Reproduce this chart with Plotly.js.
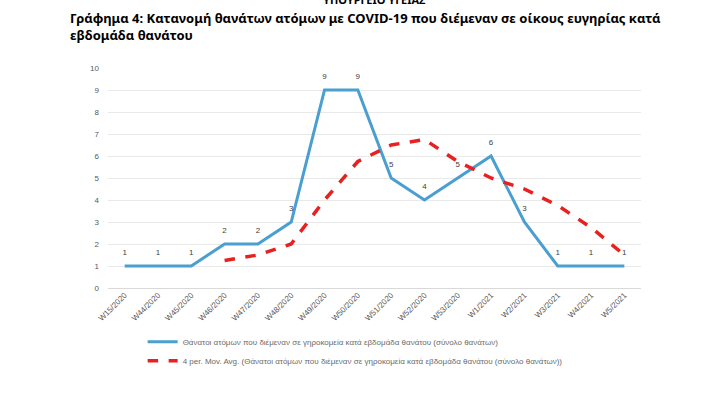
<!DOCTYPE html>
<html><head><meta charset="utf-8">
<script src="https://cdn.plot.ly/plotly-3.0.1.min.js"></script>
<style>body{margin:0;background:#fff}#c{width:715px;height:398px}</style>
</head><body><div id="c"></div>
<script>
const weeks = ["W15/2020","W44/2020","W45/2020","W46/2020","W47/2020","W48/2020","W49/2020","W50/2020","W51/2020","W52/2020","W53/2020","W1/2021","W2/2021","W3/2021","W4/2021","W5/2021"];
const deaths = [1,1,1,2,2,3,9,9,5,4,5,6,3,1,1,1];
const movAvgWeeks = ["W46/2020","W47/2020","W48/2020","W49/2020","W50/2020","W51/2020","W52/2020","W53/2020","W1/2021","W2/2021","W3/2021","W4/2021","W5/2021"];
const movAvg = [1.25,1.5,2,4,5.75,6.5,6.75,5.75,5,4.5,3.75,2.75,1.5];
const seriesNames = ["Θάνατοι ατόμων που διέμεναν σε γηροκομεία κατά εβδομάδα θανάτου (σύνολο θανάτων)",
 "4 per. Mov. Avg. (Θάνατοι ατόμων που διέμεναν σε γηροκομεία κατά εβδομάδα θανάτου (σύνολο θανάτων))"];

const traces = [
 {x: weeks, y: deaths, type:'scatter', mode:'lines', name: seriesNames[0],
  line:{color:'#4a9fd0', width:3}},
 {x: movAvgWeeks, y: movAvg, type:'scatter', mode:'lines', name: seriesNames[1],
  line:{color:'#e8201f', width:3.5, dash:'dash'}},
 {x: weeks, y: deaths, type:'scatter', mode:'text', showlegend:false, hoverinfo:'skip',
  text: deaths.map(String), textposition:'top center',
  textfont:{size:8, color:'#404040', family:'Liberation Sans, Arial'}, cliponaxis:false}
];
const layout = {
 width:715, height:398,
 margin:{l:108, r:74, t:68, b:110},
 paper_bgcolor:'#fff', plot_bgcolor:'#fff',
 font:{family:'Liberation Sans, Arial', size:8, color:'#595959'},
 showlegend:true,
 legend:{orientation:'v', x:0.065, xanchor:'left', yref:'container', y:0.178, yanchor:'top', font:{size:8, color:'#6a6a6a'}, tracegroupgap:0, itemwidth:30},
 xaxis:{type:'category', range:[-0.5,15.5], tickangle:-45, showgrid:false, zeroline:false, showline:false, ticks:'', tickfont:{size:8, color:'#595959'}, automargin:false},
 yaxis:{range:[0,10], dtick:1, showgrid:true, gridcolor:'#e9e9e9', gridwidth:1, zeroline:true, zerolinecolor:'#d9d9d9', showline:false, ticks:'', ticklabelstandoff:8, tickfont:{size:8, color:'#595959'}, automargin:false},
 annotations:[
  {text:'<b>ΥΠΟΥΡΓΕΙΟ ΥΓΕΙΑΣ</b>', xref:'paper', yref:'paper', x:0.5, y:1, xanchor:'center', yanchor:'bottom', showarrow:false, font:{family:'Noto Sans', size:11, color:'#000'}, yshift:59},
  {text:'<b>Γράφημα 4: Κατανομή θανάτων ατόμων με COVID-19 που διέμεναν σε οίκους ευγηρίας κατά<br>εβδομάδα θανάτου</b>', xref:'paper', yref:'paper', x:-0.075, y:1, xanchor:'left', yanchor:'top', align:'left', showarrow:false, font:{family:'Noto Sans', size:13, color:'#000'}, yshift:61}
 ]
};
Plotly.newPlot('c', traces, layout, {displayModeBar:false, staticPlot:true}).then(gd=>{
 gd.querySelectorAll('.scatterlayer .trace:nth-child(3) .textpoint text').forEach(t=>{
  t.setAttribute('transform','translate(0,-9)');
 });
});
</script></body></html>
